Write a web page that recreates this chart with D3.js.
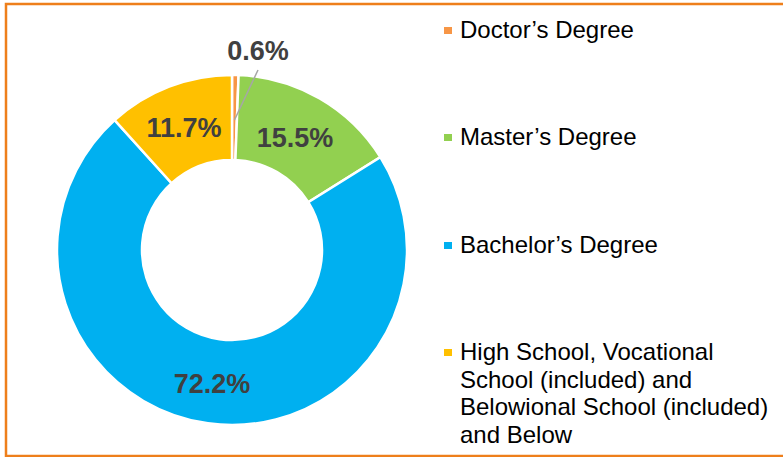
<!DOCTYPE html>
<html>
<head>
<meta charset="utf-8">
<script src="https://cdn.jsdelivr.net/npm/d3@7"></script>
<style>
  html, body { margin: 0; padding: 0; background: #fff; }
  svg { display: block; }
</style>
</head>
<body>
<svg id="chart" width="783" height="457"></svg>
<script>
// Education level breakdown (percent)
const categories = [
  "Doctor\u2019s Degree",
  "Master\u2019s Degree",
  "Bachelor\u2019s Degree",
  "High School, Vocational School (included) and Belowional School (included) and Below"
];
const values = [0.6, 15.5, 72.2, 11.7];
const colors = ["#F79646", "#92D050", "#00B0F0", "#FFC000"];
const legendLines = [
  ["Doctor\u2019s Degree"],
  ["Master\u2019s Degree"],
  ["Bachelor\u2019s Degree"],
  ["High School, Vocational", "School (included) and", "Belowional School (included)", "and Below"]
];

const svg = d3.select("#chart");

// outer frame
svg.append("rect")
  .attr("x", 6).attr("y", 4)
  .attr("width", 800).attr("height", 452)
  .attr("fill", "none")
  .attr("stroke", "#EE7F1B")
  .attr("stroke-width", 2.5);

const cx = 232, cy = 250, rOuter = 175, rInner = 90;

const pie = d3.pie().value(d => d).sort(null);
const arcs = pie(values);
const arc = d3.arc().innerRadius(rInner).outerRadius(rOuter);

const g = svg.append("g").attr("transform", `translate(${cx},${cy})`);

g.selectAll("path.slice")
  .data(arcs)
  .join("path")
  .attr("class", "slice")
  .attr("d", arc)
  .attr("fill", (d, i) => colors[i])
  .attr("stroke", "#fff")
  .attr("stroke-width", 2.5);

// value labels
const fmt = v => v.toFixed(1) + "%";
const labelFont = "bold 27px Arial, 'Liberation Sans', sans-serif";
const labelPos = [
  [258, 60],   // thin slice, placed outside with a leader line
  [295, 147],
  [212, 393],
  [184, 137]
];

// leader line for the thin slice
const mid0 = (arcs[0].startAngle + arcs[0].endAngle) / 2;
const rLead = 130;
svg.append("line")
  .attr("x1", 258).attr("y1", 70)
  .attr("x2", cx + Math.sin(mid0) * rLead)
  .attr("y2", cy - Math.cos(mid0) * rLead)
  .attr("stroke", "#A6A6A6")
  .attr("stroke-width", 1.5);

svg.selectAll("text.val")
  .data(values)
  .join("text")
  .attr("class", "val")
  .attr("x", (d, i) => labelPos[i][0])
  .attr("y", (d, i) => labelPos[i][1])
  .attr("text-anchor", "middle")
  .style("font", labelFont)
  .attr("fill", "#404040")
  .text(d => fmt(d));

// legend
const legendBase = [38, 145, 253, 360];
const lineH = 27.7;
const lg = svg.append("g");
categories.forEach((c, i) => {
  const item = lg.append("g");
  item.append("rect")
    .attr("x", 444).attr("y", legendBase[i] - 11)
    .attr("width", 8).attr("height", 7)
    .attr("fill", colors[i]);
  const t = item.append("text")
    .style("font", "24px Arial, 'Liberation Sans', sans-serif")
    .attr("fill", "#000");
  legendLines[i].forEach((ln, j) => {
    t.append("tspan")
      .attr("x", 460)
      .attr("y", legendBase[i] + j * lineH)
      .text(ln);
  });
});
</script>
</body>
</html>
